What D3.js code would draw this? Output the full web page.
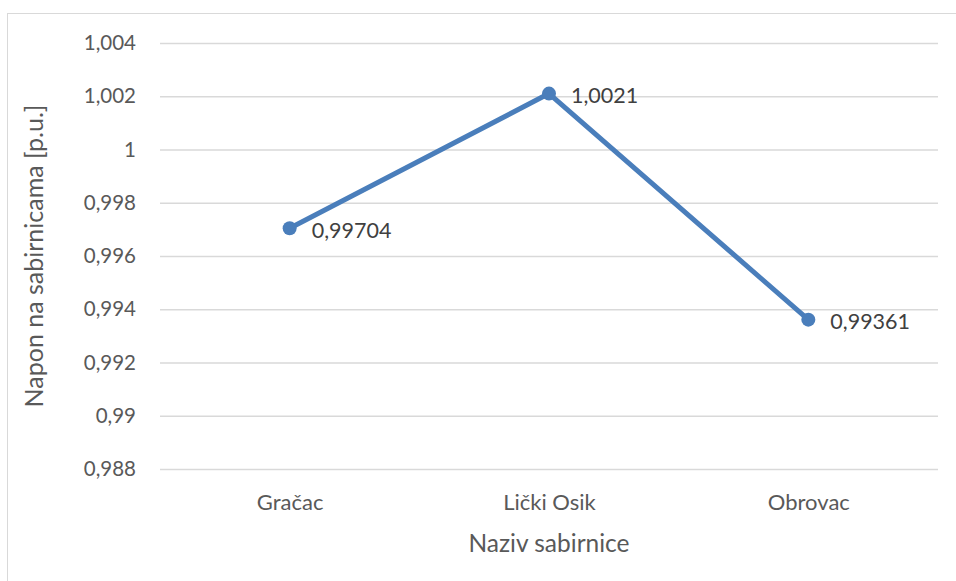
<!DOCTYPE html>
<html>
<head>
<meta charset="utf-8">
<script src="https://cdn.jsdelivr.net/npm/d3@7"></script>
<style>
  body { margin: 0; background: #fff; }
  text { font-family: Lato, "Open Sans", sans-serif; fill: #595959; }
</style>
</head>
<body>
<svg id="chart" width="956" height="581"></svg>
<script>
// data
const categories = ['Gračac', 'Lički Osik', 'Obrovac'];
const voltages = [0.99704, 1.0021, 0.99361];
const valueLabels = ['0,99704', '1,0021', '0,99361'];
const yTicks = [0.988, 0.99, 0.992, 0.994, 0.996, 0.998, 1, 1.002, 1.004];

const svg = d3.select('#chart');
const margin = {top: 43, right: 18, bottom: 112, left: 160};
const width = 956 - margin.left - margin.right;
const height = 581 - margin.top - margin.bottom;
const color = '#4a7ebb';
const fmt = d => String(d).replace('.', ',');

// chart frame
svg.append('rect')
  .attr('x', 7.5).attr('y', 13.5)
  .attr('width', 960).attr('height', 600)
  .attr('fill', 'none').attr('stroke', '#d9d9d9');

const g = svg.append('g').attr('transform', `translate(${margin.left},${margin.top})`);

const x = d3.scalePoint().domain(categories).range([0, width]).padding(0.5);
const y = d3.scaleLinear().domain([0.988, 1.004]).range([height, 0]);

// gridlines + y labels
g.append('g')
  .call(d3.axisLeft(y).tickValues(yTicks).tickSize(-width).tickFormat(fmt))
  .call(a => a.select('.domain').remove())
  .call(a => a.selectAll('.tick line').attr('stroke', '#d9d9d9').attr('stroke-width', 1.3))
  .call(a => a.selectAll('.tick text').attr('x', -24).style('font-size', '20.5px'));

// x labels
g.append('g')
  .attr('transform', `translate(0,${height})`)
  .call(d3.axisBottom(x).tickSize(0).tickPadding(25))
  .call(a => a.select('.domain').remove())
  .call(a => a.selectAll('.tick text').style('font-size', '22px'));

const line = d3.line().x((d, i) => x(categories[i])).y(d => y(d));

g.append('path')
  .datum(voltages)
  .attr('d', line)
  .attr('fill', 'none')
  .attr('stroke', color)
  .attr('stroke-width', 5)
  .attr('stroke-linejoin', 'round');

g.selectAll('circle.pt')
  .data(voltages)
  .join('circle')
  .attr('class', 'pt')
  .attr('cx', (d, i) => x(categories[i]))
  .attr('cy', d => y(d))
  .attr('r', 7)
  .attr('fill', color);

g.selectAll('text.val')
  .data(voltages)
  .join('text')
  .attr('class', 'val')
  .attr('x', (d, i) => x(categories[i]) + 22)
  .attr('y', d => y(d) + 2)
  .attr('dy', '0.35em')
  .style('font-size', '21.5px')
  .style('fill', '#404040')
  .text((d, i) => valueLabels[i]);

// axis titles
svg.append('text')
  .attr('x', margin.left + width / 2)
  .attr('y', 552)
  .attr('text-anchor', 'middle')
  .style('font-size', '24.5px')
  .text('Naziv sabirnice');

svg.append('text')
  .attr('transform', `translate(43,${margin.top + height / 2}) rotate(-90)`)
  .attr('text-anchor', 'middle')
  .style('font-size', '25px')
  .text('Napon na sabirnicama [p.u.]');
</script>
</body>
</html>
